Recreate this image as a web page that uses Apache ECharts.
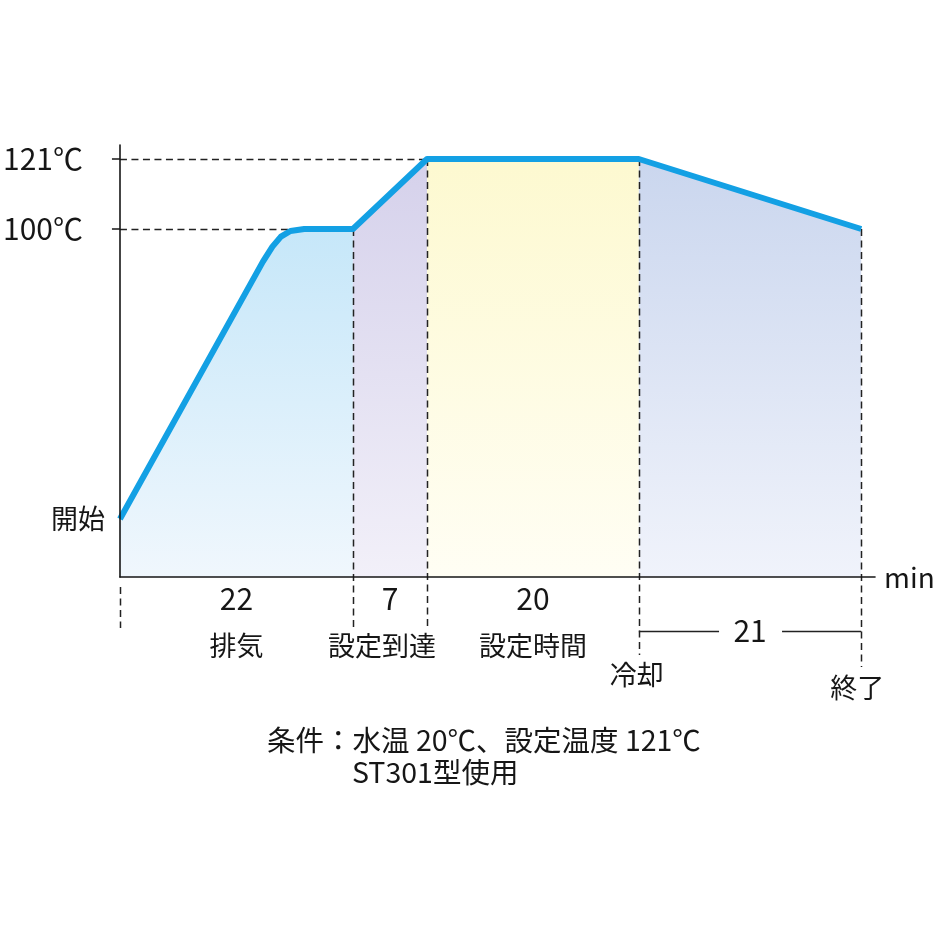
<!DOCTYPE html>
<html>
<head>
<meta charset="utf-8">
<script src="https://cdn.jsdelivr.net/npm/echarts@6/dist/echarts.min.js"></script>
<style>
html,body{margin:0;padding:0;background:#fff;}
#c{width:940px;height:940px;}
</style>
</head>
<body>
<div id="c"></div>
<script>
// ---- data ----
const phaseMinutes = [22, 7, 20, 21];
const phaseBounds = [0, 22, 29, 49, 70];
const phaseNames = ['排気', '設定到達', '設定時間'];
const boundaryNames = ['冷却', '終了'];
const curveTime = [0, 13.5, 14.4, 15.2, 16.1, 17.4, 22, 29, 49, 70];
const curveTemp = [13, 90.2, 94.7, 97.7, 99.4, 100, 100, 121, 121, 100];
const yTickValues = [13, 100, 121];
const yTickLabels = ['開始', '100℃', '121℃'];
const captionLines = ['条件：水温 20℃、設定温度 121℃', 'ST301型使用'];
const xUnit = 'min';

const FONT = '"Noto Sans CJK JP", "Noto Sans", sans-serif';
const INK = '#161616';
const LINE = '#13a0e4';
const fills = [
  ['#c6e7f9', '#f0f7fd'],
  ['#d5d1eb', '#f2f0f9'],
  ['#fdf9d0', '#fffef4'],
  ['#cad6ee', '#f0f3fb']
];
const Y_MIN = -4.4, Y_MAX = 125.2, X_MAX = 71.3;

function phaseData(k) {
  const a = phaseBounds[k], b = phaseBounds[k + 1];
  const out = [];
  for (let i = 0; i < curveTime.length; i++) {
    if (curveTime[i] >= a && curveTime[i] <= b) out.push([curveTime[i], curveTemp[i]]);
  }
  return out;
}

const series = [];
for (let k = 0; k < 4; k++) {
  series.push({
    type: 'line', silent: true, symbol: 'none', z: 2,
    data: phaseData(k),
    lineStyle: { width: 0 },
    areaStyle: {
      origin: 'start', opacity: 1,
      color: { type: 'linear', x: 0, y: 0, x2: 0, y2: 1,
        colorStops: [{ offset: 0, color: fills[k][0] }, { offset: 1, color: fills[k][1] }] }
    }
  });
}
series.push({
  type: 'line', silent: true, symbol: 'none', z: 10,
  data: curveTime.map((t, i) => [t, curveTemp[i]]),
  lineStyle: { color: LINE, width: 6, join: 'round', cap: 'butt' }
});

const chart = echarts.init(document.getElementById('c'), null, { renderer: 'canvas' });
const option = {
  animation: false,
  backgroundColor: '#ffffff',
  textStyle: { fontFamily: FONT },
  title: [
    { text: captionLines[0], left: 267, top: 726, padding: 0,
      textStyle: { fontFamily: FONT, fontSize: 28.5, fontWeight: 'normal', color: INK } },
    { text: captionLines[1], left: 352, top: 758, padding: 0,
      textStyle: { fontFamily: FONT, fontSize: 28.5, fontWeight: 'normal', color: INK } }
  ],
  grid: { left: 119, top: 145, width: 756, height: 432, containLabel: false },
  xAxis: {
    type: 'value', min: 0, max: X_MAX, z: 12,
    name: xUnit, nameLocation: 'end', nameGap: 9,
    nameTextStyle: { fontFamily: FONT, fontSize: 28, color: INK, verticalAlign: 'middle' },
    axisLine: { show: true, onZero: false, lineStyle: { color: INK, width: 1.6 } },
    axisTick: { show: false }, axisLabel: { show: false }, splitLine: { show: false }
  },
  yAxis: {
    type: 'value', min: Y_MIN, max: Y_MAX, z: 12,
    axisLine: { show: true, onZero: false, lineStyle: { color: INK, width: 1.6 } },
    axisTick: { show: true, customValues: [100, 121], length: 8, lineStyle: { color: INK, width: 1.5 } },
    axisLabel: {
      show: true, customValues: yTickValues, margin: 15,
      fontFamily: FONT, fontSize: 27, color: INK,
      formatter: function (v) {
        const i = yTickValues.indexOf(v);
        if (i < 0) return '';
        const s = yTickLabels[i];
        return s.indexOf('℃') >= 0 ? '{d|' + s + '}' : '{j|' + s + '}';
      },
      rich: {
        d: { fontFamily: FONT, fontSize: 30, color: INK, padding: [0, 22, 0, 0] },
        j: { fontFamily: FONT, fontSize: 27, color: INK }
      }
    },
    splitLine: { show: false }
  },
  series: series
};
chart.setOption(option);

// ---- annotations positioned via the chart's own scales ----
const P = (t, v) => chart.convertToPixel({ gridIndex: 0 }, [t, v]);
const base = P(0, Y_MIN)[1];
const dash = { stroke: '#222', lineWidth: 1.5, lineDash: [7, 4.5] };
const els = [];
function vline(t, y1, y2) {
  const x = Math.round(P(t, 0)[0]) + 0.5;
  els.push({ type: 'line', z: 5, silent: true, shape: { x1: x, y1: y1, x2: x, y2: y2 }, style: dash });
}
function hline(v, t2) {
  const y = Math.round(P(0, v)[1]) + 0.5;
  els.push({ type: 'line', z: 5, silent: true, shape: { x1: P(0, v)[0], y1: y, x2: P(t2, v)[0], y2: y }, style: dash });
}
function label(txt, x, y, size) {
  els.push({ type: 'text', z: 6, silent: true, x: x, y: y,
    style: { text: txt, fill: INK, font: (size || 27) + 'px ' + FONT, textAlign: 'center', textVerticalAlign: 'middle' } });
}
hline(121, phaseBounds[2]);
hline(100, phaseBounds[1]);
vline(0, base + 10, base + 51);
vline(phaseBounds[1], P(0, 100)[1], base + 51);
vline(phaseBounds[2], P(0, 121)[1], base + 51);
vline(phaseBounds[3], P(0, 121)[1], base + 78);
vline(phaseBounds[4], P(0, 100)[1], base + 90);

for (let k = 0; k < 3; k++) {
  const mid = (phaseBounds[k] + phaseBounds[k + 1]) / 2;
  const x = P(mid, 0)[0];
  label(String(phaseMinutes[k]), x, base + 22, 30);
  label(phaseNames[k], x - (k === 1 ? 8 : 0), base + 69);
}
// cooling bracket
const xa = P(phaseBounds[3], 0)[0], xb = P(phaseBounds[4], 0)[0], xm = (xa + xb) / 2;
const yb = base + 54.5;
els.push({ type: 'line', z: 5, silent: true, shape: { x1: xa, y1: yb, x2: xm - 31, y2: yb }, style: { stroke: '#222', lineWidth: 1.5 } });
els.push({ type: 'line', z: 5, silent: true, shape: { x1: xm + 32, y1: yb, x2: xb, y2: yb }, style: { stroke: '#222', lineWidth: 1.5 } });
label(String(phaseMinutes[3]), xm, base + 54, 30);
label(boundaryNames[0], xa - 2, base + 98);
label(boundaryNames[1], xb - 4, base + 111);

chart.setOption({ graphic: { elements: els } });
</script>
</body>
</html>
